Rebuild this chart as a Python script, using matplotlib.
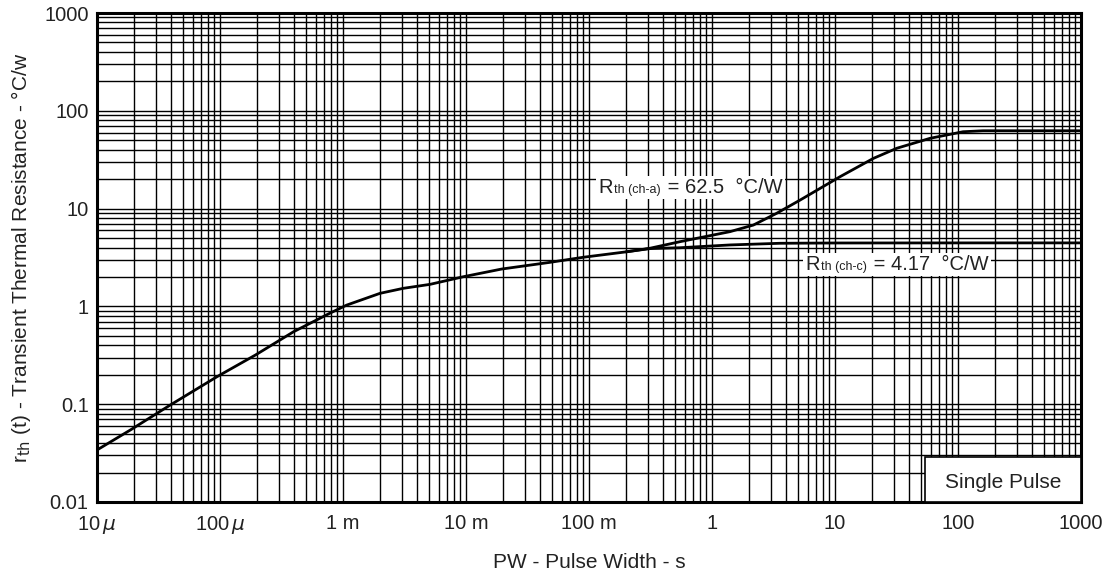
import matplotlib
matplotlib.use("Agg")
import matplotlib.pyplot as plt
from matplotlib.patches import Rectangle
from matplotlib.offsetbox import TextArea, HPacker, AnnotationBbox

plt.rcParams['font.family'] = ['Liberation Sans', 'DejaVu Sans']

# pulse width (s) and transient thermal resistance (°C/W)
t_ca = [1e-5, 1.87e-5, 3.94e-5, 9.46e-5, 1.94e-4, 3.97e-4, 7.8e-4, 1.07e-3,
        2.0e-3, 3.09e-3, 5.1e-3, 9.5e-3, 1.95e-2, 4.8e-2, 9.0e-2, 0.203,
        0.313, 0.55, 1.40, 2.17, 3.36, 5.19, 11.0, 20.5, 31.8, 59.2, 110,
        160, 1000]
r_ca = [0.034, 0.0545, 0.098, 0.191, 0.318, 0.551, 0.85, 1.03,
        1.36, 1.53, 1.68, 2.01, 2.41, 2.82, 3.18, 3.62,
        3.93, 4.59, 5.81, 6.79, 8.96, 12.2, 21.2, 32.6, 41.4, 52.3, 61.1,
        62.5, 62.5]

t_cc = [0.203, 0.313, 0.55, 1.40, 3.57, 10, 152, 1000]
r_cc = [3.62, 3.90, 3.98, 4.25, 4.42, 4.45, 4.46, 4.46]

x_ticks = [1e-5, 1e-4, 1e-3, 1e-2, 1e-1, 1, 10, 100, 1000]
x_labels = [r'10$\,\mu$', r'100$\,\mu$', '1 m', '10 m', '100 m', '1', '10', '100', '1000']
y_ticks = [0.01, 0.1, 1, 10, 100, 1000]
y_labels = ['0.01', '0.1', '1', '10', '100', '1000']

fig = plt.figure(figsize=(11.12, 5.76), dpi=100)
ax = fig.add_axes([0.0872, 0.1285, 0.8849, 0.8489])
ax.set_xscale('log')
ax.set_yscale('log')
ax.set_xlim(1e-5, 1000)
ax.set_ylim(0.01, 1000)

ax.grid(True, which='both', color='black', linewidth=1.0)
ax.set_axisbelow(True)

ax.plot(t_ca, r_ca, color='black', linewidth=2.0, zorder=3, solid_joinstyle='round')
ax.plot(t_cc, r_cc, color='black', linewidth=2.0, zorder=3, solid_joinstyle='round')

ax.set_xticks(x_ticks)
ax.set_xticklabels(x_labels)
ax.set_yticks(y_ticks)
ax.set_yticklabels(y_labels)
ax.tick_params(which='both', length=0, labelsize=14.5, colors='#222222')
ax.tick_params(axis='x', pad=9)
ax.tick_params(axis='y', pad=6)
for s in ax.spines.values():
    s.set_linewidth(2.2)

ax.set_xlabel('PW - Pulse Width - s', fontsize=15, color='#222222', labelpad=12)
ax.set_ylabel(r'r$_{\rm th}$ (t) - Transient Thermal Resistance - °C/w',
              fontsize=15, color='#222222', labelpad=8)

# "Single Pulse" box
ax.add_patch(Rectangle((0.8415, 0), 0.1585, 0.092, transform=ax.transAxes,
                       facecolor='white', edgecolor='black', linewidth=1.2, zorder=4))
ax.text(0.921, 0.04, 'Single Pulse', transform=ax.transAxes, ha='center', va='center',
        fontsize=15, color='#222222', zorder=5)


def rth_label(sub, value, xy):
    parts = [TextArea('R', textprops=dict(fontsize=14.5, color='#222222')),
             TextArea(sub, textprops=dict(fontsize=9, color='#222222')),
             TextArea(' = ' + value + '  °C/W', textprops=dict(fontsize=14.5, color='#222222'))]
    box = HPacker(children=parts, align='baseline', pad=0, sep=1)
    ab = AnnotationBbox(box, xy, xycoords='axes fraction', frameon=True,
                        box_alignment=(0.5, 0.5), pad=0.15, zorder=5,
                        bboxprops=dict(facecolor='white', edgecolor='none'))
    ax.add_artist(ab)


rth_label('th (ch-a)', '62.5', (0.603, 0.644))
rth_label('th (ch-c)', '4.17', (0.813, 0.486))

fig.savefig('out.png', dpi=100)
